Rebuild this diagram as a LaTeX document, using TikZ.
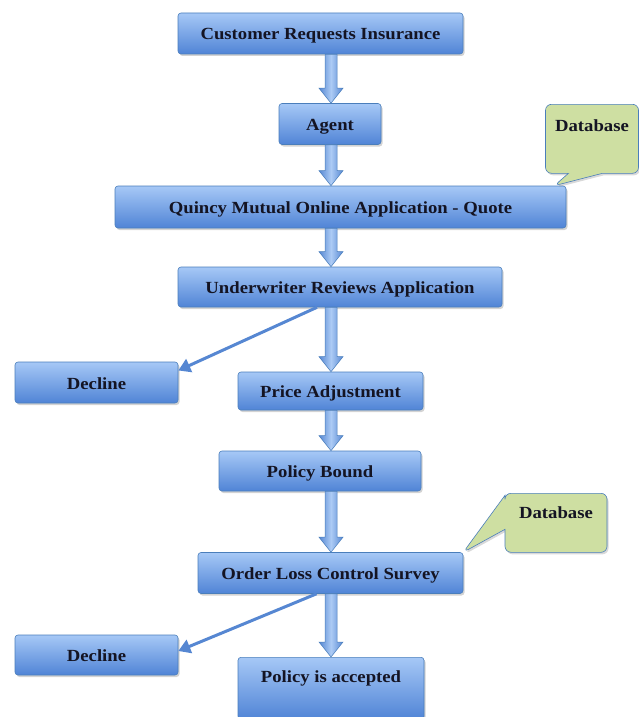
\documentclass[tikz,border=0pt]{standalone}
\usepackage{fontspec}
\newfontfamily\boxfont{Liberation Serif}[FakeStretch=1.1]
\usetikzlibrary{positioning,arrows.meta,shapes.callouts,shadows,calc}
\definecolor{BoxTop}{RGB}{166,200,246}
\definecolor{BoxBottom}{RGB}{80,132,214}
\definecolor{BoxEdge}{RGB}{74,126,187}
\definecolor{ArrowLight}{RGB}{172,203,245}
\definecolor{ArrowDark}{RGB}{86,135,210}
\definecolor{NoteFill}{RGB}{206,223,162}
\definecolor{Ink}{RGB}{20,20,35}

\newcommand{\flowarrow}[2]{%
  \shadedraw[left color=ArrowDark,right color=ArrowDark,middle color=ArrowLight,draw=BoxEdge,line width=0.5pt]
    let \p1=(spine |- #1.south), \p2=(spine |- #2.north) in
    (\x1-6pt,\y1) -- (\x1+6pt,\y1) -- (\x1+6pt,\y2+15pt) -- (\x1+12pt,\y2+15pt)
    -- (\x2,\y2) -- (\x1-12pt,\y2+15pt) -- (\x1-6pt,\y2+15pt) -- cycle;}

\begin{document}
\begin{tikzpicture}[x=1pt,y=-1pt,
    box/.style={draw=BoxEdge,line width=0.6pt,rounded corners=3pt,
      top color=BoxTop,bottom color=BoxBottom,text=Ink,inner sep=0pt,
      text height=15pt,text depth=2pt,
      font=\boxfont\fontsize{17}{20}\selectfont\bfseries,
      drop shadow={shadow xshift=1.5pt,shadow yshift=-2pt,opacity=0.35}},
    note/.style={rectangle callout,draw=BoxEdge,line width=0.6pt,fill=NoteFill,
      rounded corners=6pt,text=Ink,inner sep=0pt,callout pointer width=34pt,
      font=\boxfont\fontsize{17}{20}\selectfont\bfseries,
      drop shadow={shadow xshift=1.5pt,shadow yshift=-2pt,opacity=0.3}},
    side/.style={draw=ArrowDark,line width=3pt,-{Triangle[length=12pt,width=14pt]}}]
        \useasboundingbox (0,0) rectangle (639,717);
        \coordinate (spine) at (331,0);

        \node[box,minimum width=285pt,minimum height=41pt] (cust) at (320.5,33.5) {Customer Requests Insurance};
        \node[box,minimum width=102pt,minimum height=41pt] (agent) at (330,124) {Agent};
        \node[box,minimum width=451pt,minimum height=42pt] (quincy) at (340.5,207) {Quincy Mutual Online Application - Quote};
        \node[box,minimum width=324pt,minimum height=40pt] (under) at (340,287) {Underwriter Reviews Application};
        \node[box,minimum width=163pt,minimum height=41pt] (declineA) at (96.5,382.5) {Decline};
        \node[box,minimum width=185pt,minimum height=38pt] (price) at (330.5,391) {Price Adjustment};
        \node[box,minimum width=202pt,minimum height=40pt] (bound) at (320,471) {Policy Bound};
        \node[box,minimum width=265pt,minimum height=41pt] (survey) at (330.5,573) {Order Loss Control Survey};
        \node[box,minimum width=163pt,minimum height=40pt] (declineB) at (96.5,655) {Decline};
        \node[box,minimum width=186pt,text height=25pt,text depth=37pt,anchor=north] (accepted) at (331,657) {Policy is accepted};

        \node[note,minimum width=93pt,text height=27pt,text depth=42pt,anchor=north,
          callout absolute pointer={([xshift=-12pt]quincy.north east)}] (dbA) at (592,104) {Database};
        \node[note,minimum width=102pt,text height=25pt,text depth=34pt,anchor=north,
          callout absolute pointer={(survey.north east)}] (dbB) at (556,493) {Database};

        \flowarrow{cust}{agent}
        \flowarrow{agent}{quincy}
        \flowarrow{quincy}{under}
        \flowarrow{under}{price}
        \flowarrow{price}{bound}
        \flowarrow{bound}{survey}
        \flowarrow{survey}{accepted}

        \draw[side] ([xshift=-23pt]under.south) -- ([yshift=12pt]declineA.east);
        \draw[side] ([xshift=-14pt]survey.south) -- ([yshift=4pt]declineB.east);
      \end{tikzpicture}
\end{document}
